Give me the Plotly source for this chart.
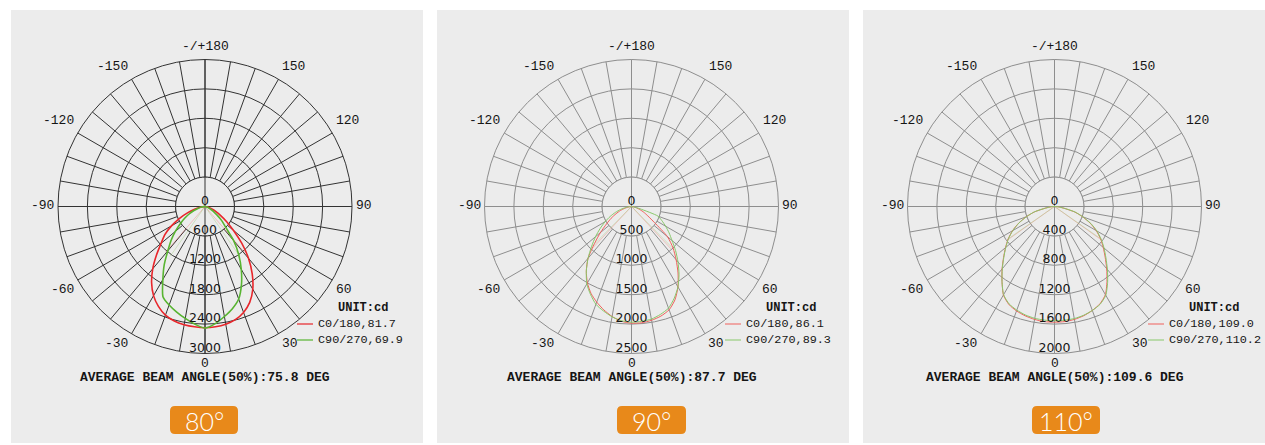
import math
import plotly.graph_objects as go

W, H = 1265, 445

# ---------------- data ----------------
ANGLES = [-90, -85, -80, -75, -70, -65, -60, -55, -50, -45, -40, -35, -30, -25, -20, -15, -10, -5,
          0, 5, 10, 15, 20, 25, 30, 35, 40, 45, 50, 55, 60, 65, 70, 75, 80, 85, 90]

P1_C0 = [0, 40, 110, 220, 380, 580, 790, 1000, 1170, 1400, 1660, 1900, 2100, 2250, 2360, 2420, 2450, 2465,
         2475, 2465, 2440, 2390, 2300, 2160, 1950, 1680, 1380, 1060, 760, 540, 370, 240, 150, 80, 40, 15, 0]
P1_C90 = [0, 20, 70, 150, 240, 350, 480, 620, 790, 980, 1180, 1450, 1720, 2030, 2140, 2230, 2320, 2410,
          2482, 2400, 2280, 2160, 2010, 1760, 1480, 1200, 910, 590, 440, 290, 190, 120, 70, 40, 20, 5, 0]

P2_C0 = [0, 20, 60, 120, 200, 290, 400, 520, 690, 890, 1150, 1340, 1500, 1630, 1730, 1820, 1900, 1960,
         1985, 1985, 1965, 1930, 1870, 1750, 1580, 1380, 1180, 1000, 800, 480, 320, 230, 150, 90, 45, 15, 0]
P2_C90 = [0, 40, 100, 190, 290, 400, 520, 650, 800, 960, 1150, 1340, 1520, 1650, 1770, 1840, 1905, 1950,
          1968, 1960, 1945, 1900, 1840, 1720, 1580, 1410, 1230, 1060, 900, 780, 670, 570, 480, 150, 40, 10, 0]

P3_C0 = [0, 50, 120, 280, 410, 540, 660, 770, 870, 980, 1110, 1245, 1390, 1470, 1512, 1540, 1560, 1572,
         1574, 1572, 1560, 1538, 1505, 1462, 1385, 1245, 1105, 975, 865, 765, 655, 535, 405, 280, 120, 50, 0]
P3_C90 = [0, 50, 125, 285, 405, 535, 655, 765, 865, 975, 1105, 1245, 1385, 1462, 1500, 1528, 1545, 1552,
          1555, 1553, 1548, 1532, 1505, 1468, 1395, 1260, 1120, 990, 880, 775, 665, 545, 410, 290, 130, 50, 0]

RINGS_P1 = [600, 1200, 1800, 2400, 3000]
RINGS_P2 = [500, 1000, 1500, 2000, 2500]
RINGS_P3 = [400, 800, 1200, 1600, 2000]

BEAM_C0 = [81.7, 86.1, 109.0]
BEAM_C90 = [69.9, 89.3, 110.2]
AVG_BEAM = [75.8, 87.7, 109.6]
BADGES = ["80°", "90°", "110°"]

ANGLE_TICKS = list(range(0, 360, 10))
LABEL_ANGLES = [0, 30, 60, 90, 120, 150, 180, 210, 240, 270, 300, 330]
LABEL_TEXTS = ["0", "30", "60", "90", "120", "150", "-/+180", "-150", "-120", "-90", "-60", "-30"]

# ---------------- layout config (pixels) ----------------
R = 147
CY = 206.5
PANELS = [
    dict(cx=205.0, bg=(11, 423), grid="#333333", red="#e8262b", green="#58b431", lw=1.6,
         c0=P1_C0, c90=P1_C90, rings=RINGS_P1, legx=297, badge=(170, 238)),
    dict(cx=631.5, bg=(437, 849), grid="#8e8e8e", red="#f0605c", green="#88c86a", lw=1.0,
         c0=P2_C0, c90=P2_C90, rings=RINGS_P2, legx=725, badge=(617, 686)),
    dict(cx=1054.5, bg=(863, 1265), grid="#8e8e8e", red="#f0605c", green="#88c86a", lw=1.0,
         c0=P3_C0, c90=P3_C90, rings=RINGS_P3, legx=1148, badge=(1032, 1100)),
]
BG = "#ececec"
TXT = "#151515"
MONO = "Liberation Mono, Courier New, monospace"
CHAR_W = 7.8       # px per character of 13px mono
GAP_X = 3.7        # horizontal gap between rim and label box
OFF_Y = 11.0       # vertical offset of label centre from rim
BIAS_Y = -1.5      # slight upward shift of all rim labels
LABEL_LIFT = 5.0   # px that radial labels sit above their ring


def X(x):
    return x / W


def Y(y):
    return 1 - y / H


def rounded(x0, y0, x1, y1, r):
    return (f"M {X(x0 + r)},{Y(y0)} L {X(x1 - r)},{Y(y0)} Q {X(x1)},{Y(y0)} {X(x1)},{Y(y0 + r)} "
            f"L {X(x1)},{Y(y1 - r)} Q {X(x1)},{Y(y1)} {X(x1 - r)},{Y(y1)} "
            f"L {X(x0 + r)},{Y(y1)} Q {X(x0)},{Y(y1)} {X(x0)},{Y(y1 - r)} "
            f"L {X(x0)},{Y(y0 + r)} Q {X(x0)},{Y(y0)} {X(x0 + r)},{Y(y0)} Z")


def sgn(v):
    return 0 if abs(v) < 1e-6 else (1 if v > 0 else -1)


fig = go.Figure()
shapes = []
annotations = []
layout_polars = {}

for i, p in enumerate(PANELS):
    sub = "polar" if i == 0 else f"polar{i + 1}"
    rmax = p["rings"][-1]
    inner = p["rings"][0]
    circ = list(range(0, 361, 5))
    cx = p["cx"]

    # cover disc inside first ring (spokes start at the first ring)
    fig.add_trace(go.Scatterpolar(r=[inner] * len(circ), theta=circ, mode="lines", fill="toself",
                                  fillcolor=BG, line=dict(color=p["grid"], width=1),
                                  subplot=sub, hoverinfo="skip", showlegend=False))
    # main axes through centre
    fig.add_trace(go.Scatterpolar(r=[rmax, 0, rmax], theta=[180, 0, 0], mode="lines",
                                  line=dict(color=p["grid"], width=1), subplot=sub,
                                  hoverinfo="skip", showlegend=False))
    fig.add_trace(go.Scatterpolar(r=[rmax, 0, rmax], theta=[90, 0, 270], mode="lines",
                                  line=dict(color=p["grid"], width=1), subplot=sub,
                                  hoverinfo="skip", showlegend=False))
    # faint beam-angle lines
    for beam, series, col in ((BEAM_C0[i], p["c0"], "rgba(240,110,100,0.35)"),
                              (BEAM_C90[i], p["c90"], "rgba(150,200,110,0.35)")):
        half = beam / 2
        rr = max(series) * 0.5
        fig.add_trace(go.Scatterpolar(r=[rr, 0, rr], theta=[-half, 0, half], mode="lines",
                                      line=dict(color=col, width=1), subplot=sub,
                                      hoverinfo="skip", showlegend=False))
    # curves
    fig.add_trace(go.Scatterpolar(r=p["c0"], theta=ANGLES, mode="lines",
                                  line=dict(color=p["red"], width=p["lw"], shape="spline", smoothing=0.6),
                                  subplot=sub, name="C0/180", showlegend=False))
    fig.add_trace(go.Scatterpolar(r=p["c90"], theta=ANGLES, mode="lines",
                                  line=dict(color=p["green"], width=p["lw"], shape="spline", smoothing=0.6),
                                  subplot=sub, name="C90/270", showlegend=False))
    # radial labels, sitting a few px above each ring on the 0-degree spoke
    lift = LABEL_LIFT / R * rmax
    rl = [0] + p["rings"]
    fig.add_trace(go.Scatterpolar(r=[lift] + [v - lift for v in p["rings"]],
                                  theta=[180] + [0] * len(p["rings"]),
                                  mode="text", text=[str(v) for v in rl], textposition="middle center",
                                  textfont=dict(family="DejaVu Sans", size=12.5, color=TXT),
                                  subplot=sub, hoverinfo="skip", showlegend=False, cliponaxis=False))

    layout_polars[sub] = dict(
        domain=dict(x=[X(cx - R), X(cx + R)], y=[Y(CY + R), Y(CY - R)]),
        bgcolor="rgba(0,0,0,0)",
        radialaxis=dict(range=[0, rmax], tickvals=p["rings"], showticklabels=False, ticks="",
                        showline=False, gridcolor=p["grid"], gridwidth=1),
        angularaxis=dict(rotation=270, direction="counterclockwise", tickmode="array",
                         tickvals=ANGLE_TICKS, showticklabels=False, ticks="",
                         showline=True, linecolor=p["grid"], linewidth=1,
                         gridcolor=p["grid"], gridwidth=1),
    )

    # angular labels around the rim
    for ang, txt in zip(LABEL_ANGLES, LABEL_TEXTS):
        a = math.radians(ang)
        s, c = math.sin(a), math.cos(a)
        ox = sgn(round(s, 6)) * (len(txt) * CHAR_W / 2 + GAP_X)
        oy = sgn(round(c, 6)) * OFF_Y + BIAS_Y
        lx_, ly_ = cx + R * s + ox, CY + R * c + oy
        annotations.append(dict(xref="paper", yref="paper", x=X(lx_), y=Y(ly_),
                                xanchor="center", yanchor="middle", text=txt, showarrow=False,
                                font=dict(family=MONO, size=13, color=TXT)))

    # panel background
    x0, x1 = p["bg"]
    shapes.append(dict(type="rect", xref="paper", yref="paper", x0=X(x0), x1=X(x1), y0=Y(443), y1=Y(10),
                       fillcolor=BG, line=dict(width=0), layer="below"))
    # title
    annotations.append(dict(xref="paper", yref="paper", x=X(cx), y=Y(377), xanchor="center", yanchor="middle",
                            text=f"<b>AVERAGE BEAM ANGLE(50%):{AVG_BEAM[i]:.1f} DEG</b>", showarrow=False,
                            font=dict(family=MONO, size=13, color=TXT)))
    # legend
    lx = p["legx"]
    annotations.append(dict(xref="paper", yref="paper", x=X(lx + 66), y=Y(308), xanchor="center",
                            yanchor="middle", text="<b>UNIT:cd</b>", showarrow=False,
                            font=dict(family=MONO, size=12, color=TXT)))
    for k, (lab, val, col) in enumerate((("C0/180", BEAM_C0[i], p["red"]),
                                         ("C90/270", BEAM_C90[i], p["green"]))):
        yy = 324 + 16 * k
        shapes.append(dict(type="line", xref="paper", yref="paper", x0=X(lx), x1=X(lx + 16), y0=Y(yy), y1=Y(yy),
                           line=dict(color=col, width=1.2 if i == 0 else 1)))
        annotations.append(dict(xref="paper", yref="paper", x=X(lx + 19), y=Y(yy), xanchor="left",
                                yanchor="middle", text=f"{lab},{val:.1f}", showarrow=False,
                                font=dict(family=MONO, size=11.8, color=TXT)))
    # badge
    bx0, bx1 = p["badge"]
    shapes.append(dict(type="path", xref="paper", yref="paper", path=rounded(bx0, 406, bx1, 434, 5),
                       fillcolor="#e8891a", line=dict(width=0)))
    annotations.append(dict(xref="paper", yref="paper", x=X((bx0 + bx1) / 2), y=Y(421), xanchor="center",
                            yanchor="middle", text=BADGES[i], showarrow=False,
                            font=dict(family="Lato", size=25, color="white", weight=300)))

fig.update_layout(width=W, height=H, margin=dict(l=0, r=0, t=0, b=0), paper_bgcolor="white",
                  plot_bgcolor="white", showlegend=False, shapes=shapes, annotations=annotations,
                  **layout_polars)

fig.write_html("out.html", config={"displayModeBar": False},
               post_script="document.body.style.margin='0px';document.body.style.overflow='hidden';")
